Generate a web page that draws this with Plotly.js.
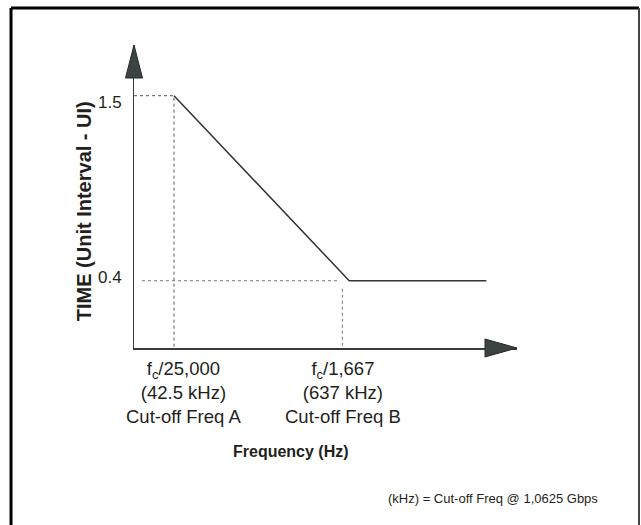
<!DOCTYPE html>
<html>
<head>
<meta charset="utf-8">
<script src="https://cdn.plot.ly/plotly-3.0.1.min.js"></script>
<style>
html,body{margin:0;padding:0;background:#fff;}
#chart{width:641px;height:525px;}
</style>
</head>
<body>
<div id="chart"></div>
<script>
// ---- data ----
var freqHz = [42500, 637000, 5300000];          // jitter tolerance curve corners / end
var timeUI = [1.5, 0.4, 0.4];

var guideA_x = [22900, 42500, 42500];            // dotted guide to 1.5 / cut-off A
var guideA_y = [1.5, 1.5, 0];
var guideB_hx = [25900, 530000];                 // dotted guide at 0.4
var guideB_hy = [0.4, 0.4];
var guideB_vx = [573000, 573000];                // dotted guide down from cut-off B
var guideB_vy = [0.352, 0];

var yTickVals = [1.5, 0.4];
var yTickText = ['1.5', '0.4'];
var xTickVals = [42500, 637000];
var xTickText = [
  'f<sub>c</sub>/25,000<br>(42.5 kHz)<br>Cut-off Freq A',
  'f<sub>c</sub>/1,667<br>(637 kHz)<br>Cut-off Freq B'
];

var txt = '#231f20';
var font = 'Liberation Sans, Arial, sans-serif';

var traces = [
  {x: guideA_x, y: guideA_y, mode: 'lines', line: {color: '#555', width: 1, dash: 'dot'}, hoverinfo: 'skip'},
  {x: guideB_hx, y: guideB_hy, mode: 'lines', line: {color: '#777', width: 1, dash: 'dot'}, hoverinfo: 'skip'},
  {x: guideB_vx, y: guideB_vy, mode: 'lines', line: {color: '#777', width: 1, dash: 'dot'}, hoverinfo: 'skip'},
  {x: freqHz, y: timeUI, mode: 'lines', line: {color: '#333', width: 1.5}, hoverinfo: 'skip'}
];

var annotations = [];
var yShift = [-7, 3];
yTickVals.forEach(function(v, i){
  annotations.push({x: 0, xref: 'paper', xanchor: 'right', yanchor: 'middle', xshift: -10, y: v, yref: 'y', yshift: yShift[i],
    text: yTickText[i], showarrow: false, font: {family: font, size: 17, color: txt}});
});
var xShift = [9, -6];
xTickVals.forEach(function(v, i){
  annotations.push({x: Math.log10(v), xref: 'x', xanchor: 'center', xshift: xShift[i], y: -0.025, yref: 'paper', yanchor: 'top',
    text: xTickText[i], showarrow: false, align: 'center', font: {family: font, size: 18.5, color: txt}});
});
annotations.push({x: 0.410, y: -0.340, xref: 'paper', yref: 'paper', xanchor: 'center', yanchor: 'middle',
  text: '<b>Frequency (Hz)</b>', showarrow: false, font: {family: font, size: 16, color: txt}});
annotations.push({x: -0.130, y: 0.452, xref: 'paper', yref: 'paper', xanchor: 'center', yanchor: 'middle',
  text: '<b>TIME (Unit Interval - UI)</b>', textangle: -90, showarrow: false, font: {family: font, size: 20, color: txt}});
annotations.push({x: 0.9373, y: -0.498, xref: 'paper', yref: 'paper', xanchor: 'center', yanchor: 'middle',
  text: '(kHz) = Cut-off Freq @ 1,0625 Gbps', showarrow: false, font: {family: font, size: 13, color: txt}});

var shapes = [
  // frame
  {type: 'line', xref: 'paper', yref: 'paper', x0: -0.3211, x1: -0.3211, y0: -0.8, y1: 1.1221, line: {color: '#000', width: 3}},
  {type: 'line', xref: 'paper', yref: 'paper', x0: -0.3211, x1: 1.3185, y0: 1.1221, y1: 1.1221, line: {color: '#000', width: 3}},
  {type: 'line', xref: 'paper', yref: 'paper', x0: 1.3185, x1: 1.3185, y0: -0.8, y1: 1.1221, line: {color: '#444', width: 2}},
  // axis arrowheads
  {type: 'path', xref: 'paper', yref: 'paper', path: 'M -0.0222 0.891 L 0.0222 0.891 L 0 1 Z',
    fillcolor: '#3c4443', line: {color: '#2a2a2a', width: 1}},
  {type: 'path', xref: 'paper', yref: 'paper', path: 'M 0.9164 -0.0297 L 0.9164 0.0297 L 1 0 Z',
    fillcolor: '#3c4443', line: {color: '#2a2a2a', width: 1}}
];

var layout = {
  width: 641, height: 525,
  margin: {l: 134, r: 124, t: 45, b: 177},
  paper_bgcolor: '#fff', plot_bgcolor: '#fff',
  showlegend: false,
  xaxis: {type: 'log', range: [4.360, 6.930], showgrid: false, zeroline: false, showticklabels: false,
    ticks: '', showline: true, linecolor: '#3a3a3a', linewidth: 1.5, fixedrange: true},
  yaxis: {range: [0, 1.8014], showgrid: false, zeroline: false, showticklabels: false,
    ticks: '', showline: true, linecolor: '#3a3a3a', linewidth: 1.5, fixedrange: true},
  annotations: annotations,
  shapes: shapes
};

Plotly.newPlot('chart', traces, layout, {displayModeBar: false, staticPlot: true});
</script>
</body>
</html>
